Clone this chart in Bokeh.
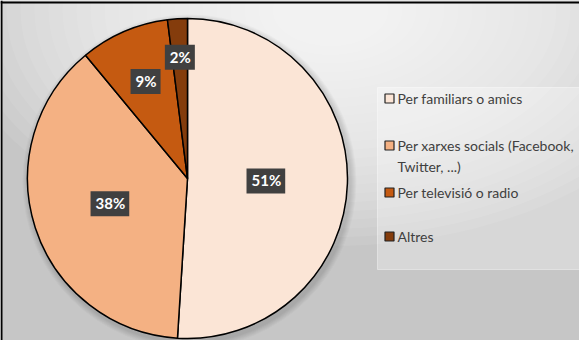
import math
from bokeh.plotting import figure
from bokeh.models import ColumnDataSource, Span, Range1d
from bokeh.core.properties import value
from bokeh.embed import file_html
from bokeh.resources import INLINE

# ---- data ----
categories = ["Per familiars o amics",
              "Per xarxes socials (Facebook,\nTwitter, ...)",
              "Per televisió o radio",
              "Altres"]
shares = [51, 38, 9, 2]
colors = ["#FBE5D6", "#F4B183", "#C55A11", "#843C0C"]
label_r = [0.49, 0.51, 0.66, 0.76]

W, H = 579, 340
p = figure(width=W, height=H, output_backend="svg", toolbar_location=None,
           x_range=Range1d(0, W), y_range=Range1d(0, H), min_border=0)
p.axis.visible = False
p.grid.visible = False
p.outline_line_color = None
p.background_fill_color = "#c6c6c6"
p.border_fill_color = "#ffffff"

# radial background gradient (stacked translucent ellipses)
gx, gy = 330, 330
n = 24
for i in range(n):
    w = 760 - i * 28
    p.ellipse(x=gx, y=gy, width=w, height=w * 0.62, fill_color="white",
              fill_alpha=0.075, line_color=None)

# border on left/top
p.add_layout(Span(location=1, dimension="height", line_color="black", line_width=2))
p.add_layout(Span(location=H - 2, dimension="width", line_color="black", line_width=2))

# pie
cx, cy, R = 187, 162, 160
total = sum(shares)
starts, ends, mids = [], [], []
acc = 0
for s in shares:
    a0 = math.pi / 2 - 2 * math.pi * acc / total
    acc += s
    a1 = math.pi / 2 - 2 * math.pi * acc / total
    starts.append(a0); ends.append(a1); mids.append((a0 + a1) / 2)

# soft shadow
for k in range(6):
    p.circle(x=cx + 2, y=cy - 3, radius=R + 7 - k, fill_color="black",
             fill_alpha=0.025, line_color=None)

src = ColumnDataSource(dict(start=starts, end=ends, color=colors))
p.wedge(x=cx, y=cy, radius=R, start_angle="start", end_angle="end",
        direction="clock", fill_color="color", line_color="black",
        line_width=1.5, source=src)

lx = [cx + R * r * math.cos(m) for r, m in zip(label_r, mids)]
ly = [cy + R * r * math.sin(m) for r, m in zip(label_r, mids)]
labels = [f"{s}%" for s in shares]
p.text(x=lx, y=ly, text=labels, text_color="white", text_font=value("Lato"),
       text_font_style="bold", text_font_size="15px", text_align="center",
       text_baseline="middle", background_fill_color="#404040",
       padding=[5, 4, 3, 4])

# legend panel
p.quad(left=377, right=W, bottom=71, top=253, fill_color="white",
       fill_alpha=0.3, line_color="white", line_alpha=0.4)
leg_y = [242, 195, 148, 104]
mx = 389
p.scatter(x=[mx] * 4, y=leg_y, marker="square", size=9, fill_color=colors,
          line_color="#222222", line_width=1.2)
p.text(x=[mx + 8] * 4, y=[v + 9 for v in leg_y], text=categories,
       text_color="#404040", text_font=value("Lato"), text_font_size="14px",
       text_baseline="top", text_align="left", text_line_height=1.25)

open("out.html", "w").write(file_html(p, INLINE))
